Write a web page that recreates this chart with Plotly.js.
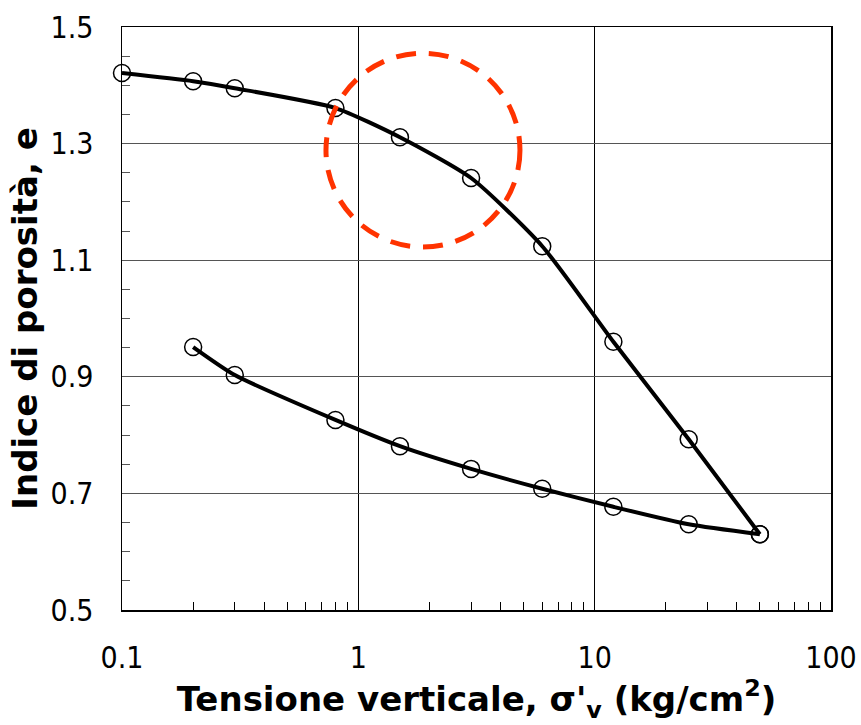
<!DOCTYPE html>
<html>
<head>
<meta charset="utf-8">
<script src="https://cdn.plot.ly/plotly-3.0.1.min.js"></script>
<style>html,body{margin:0;padding:0;background:#fff;}#chart{width:861px;height:725px;}</style>
</head>
<body>
<div id="chart"></div>
<script>
// Loading curve (compressione)
const loadStress = [0.1, 0.2, 0.3, 0.8, 1.5, 3, 6, 12, 25, 50];
const loadVoid   = [1.421, 1.407, 1.395, 1.361, 1.311, 1.241, 1.124, 0.960, 0.793, 0.630];
// Unloading curve (scarico)
const unloadStress = [50, 25, 12, 6, 3, 1.5, 0.8, 0.3, 0.2];
const unloadVoid   = [0.630, 0.647, 0.677, 0.708, 0.742, 0.781, 0.826, 0.903, 0.951];
// Tick labels
const yTickVals = [0.5, 0.7, 0.9, 1.1, 1.3, 1.5];
const yTickText = ['0.5', '0.7', '0.9', '1.1', '1.3', '1.5'];
const xTickVals = [0.1, 1, 10, 100];
const xTickText = ['0.1', '1', '10', '100'];

const xMinor = [];
[0.1, 1, 10].forEach(d => { for (let k = 2; k <= 9; k++) xMinor.push(+(d * k).toPrecision(3)); });
const yMinor = [];
for (let v = 0.55; v < 1.5; v += 0.05) yMinor.push(+v.toFixed(2));

const lineStyle = {color: '#000', width: 4, shape: 'spline', smoothing: 0.6};
const markerStyle = {symbol: 'circle-open', size: 17, color: '#000', line: {width: 1.5, color: '#000'}};

const traces = [
  {x: loadStress, y: loadVoid, mode: 'lines+markers', line: lineStyle, marker: markerStyle, cliponaxis: false},
  {x: unloadStress, y: unloadVoid, mode: 'lines+markers', line: lineStyle, marker: markerStyle, cliponaxis: false}
];

const tickFam = 'DejaVu Sans Condensed, DejaVu Sans, sans-serif';
const titleFam = 'DejaVu Sans, Verdana, sans-serif';

const layout = {
  width: 861, height: 725,
  margin: {l: 122, r: 30, t: 27, b: 115},
  paper_bgcolor: '#fff', plot_bgcolor: '#fff',
  showlegend: false,
  font: {family: tickFam, color: '#000'},
  xaxis: {
    type: 'log', range: [-1, 2],
    tickmode: 'array', tickvals: xTickVals, ticktext: xTickText,
    tickfont: {family: tickFam, size: 30, color: '#000'},
    ticks: '', ticklabelstandoff: 20,
    showgrid: true, gridcolor: '#000', gridwidth: 1,
    showline: true, linecolor: '#000', linewidth: 1.5, mirror: true,
    zeroline: false,
    minor: {tickmode: 'array', tickvals: xMinor, ticks: 'inside', ticklen: 8, tickcolor: '#000', tickwidth: 1, showgrid: false},
    title: {text: "Tensione verticale, σ'<sub>v</sub> (kg/cm<sup>2</sup>)", font: {family: titleFam, size: 34, color: '#000', weight: 'bold'}, standoff: 5}
  },
  yaxis: {
    range: [0.5, 1.5],
    tickmode: 'array', tickvals: yTickVals, ticktext: yTickText,
    tickfont: {family: tickFam, size: 30, color: '#000'},
    ticks: '', ticklabelstandoff: 21,
    showgrid: true, gridcolor: '#555', gridwidth: 1,
    showline: true, linecolor: '#000', linewidth: 1.5, mirror: true,
    zeroline: false,
    minor: {tickmode: 'array', tickvals: yMinor, ticks: 'inside', ticklen: 8, tickcolor: '#555', tickwidth: 1, showgrid: false},
    title: {text: 'Indice di porosità, e', font: {family: titleFam, size: 34, color: '#000', weight: 'bold'}, standoff: 2}
  },
  shapes: [{
    type: 'circle', xref: 'paper', yref: 'paper',
    x0: 0.2877, x1: 0.5613, y0: 0.6226, y1: 0.955,
    line: {color: '#FF3300', width: 5, dash: '20px,13px'}
  }]
};

Plotly.newPlot('chart', traces, layout, {displayModeBar: false, staticPlot: true});
</script>
</body>
</html>
